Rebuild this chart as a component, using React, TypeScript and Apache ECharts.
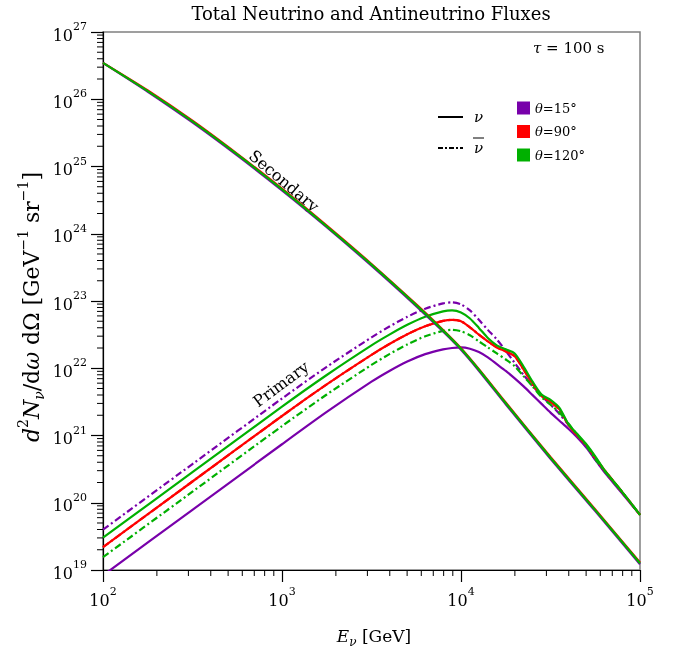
import React, { useEffect, useRef } from 'react';
import * as echarts from 'echarts';

const FONT = 'DejaVu Serif';
const PURPLE = '#7800AA';
const RED = '#FF0000';
const GREEN = '#00B000';

// Energies (GeV) for primary curves
const energies = [100, 316, 1000, 1778, 3162, 3981, 5012, 6310, 7943, 8913, 10000, 11220, 12589, 14125, 15849, 17783, 19953, 22387, 25119, 28184, 31623, 35481, 39811, 44668, 50119, 56234, 63096, 79433, 100000];

// Primary fluxes (GeV^-1 sr^-1)
const primNu15 = [8.32e18, 7.85e19, 7.41e20, 2.24e21, 6.31e21, 9.12e21, 1.26e22, 1.62e22, 1.91e22, 2.0e22, 2.04e22, 1.95e22, 1.74e22, 1.45e22, 1.15e22, 9.12e21, 7.08e21, 5.37e21, 3.98e21, 2.95e21, 2.19e21, 1.66e21, 1.26e21, 9.33e20, 6.61e20, 4.37e20, 2.88e20, 1.38e20, 6.61e19];
const primNubar15 = [3.98e19, 3.76e20, 3.55e21, 1.05e22, 2.88e22, 4.17e22, 5.82e22, 7.67e22, 9.23e22, 9.55e22, 8.91e22, 7.24e22, 5.25e22, 3.72e22, 2.69e22, 1.82e22, 1.2e22, 7.94e21, 5.5e21, 3.89e21, 2.88e21, 2.09e21, 1.45e21, 9.77e20, 6.92e20, 4.37e20, 2.95e20, 1.41e20, 6.61e19];
const primNu90 = [2.19e19, 2.07e20, 1.95e21, 5.75e21, 1.58e22, 2.29e22, 3.2e22, 4.22e22, 5.07e22, 5.25e22, 5.01e22, 4.07e22, 3.16e22, 2.51e22, 2.04e22, 1.78e22, 1.51e22, 9.55e21, 5.89e21, 3.89e21, 3.16e21, 2.45e21, 1.45e21, 1.0e21, 7.24e20, 4.68e20, 3.09e20, 1.45e20, 6.61e19];
const primNubar90 = [2.19e19, 2.07e20, 1.95e21, 5.75e21, 1.58e22, 2.29e22, 3.2e22, 4.22e22, 5.07e22, 5.25e22, 5.01e22, 4.07e22, 3.16e22, 2.51e22, 2.04e22, 1.78e22, 1.51e22, 9.55e21, 5.89e21, 3.89e21, 3.16e21, 2.45e21, 1.45e21, 1.0e21, 7.24e20, 4.68e20, 3.09e20, 1.45e20, 6.61e19];
const primNu120 = [3.02e19, 2.85e20, 2.69e21, 7.94e21, 2.19e22, 3.16e22, 4.42e22, 5.82e22, 7.0e22, 7.24e22, 6.76e22, 5.5e22, 3.98e22, 2.82e22, 2.19e22, 1.91e22, 1.66e22, 1.05e22, 6.31e21, 4.07e21, 3.39e21, 2.57e21, 1.48e21, 1.05e21, 7.41e20, 4.9e20, 3.09e20, 1.45e20, 6.61e19];
const primNubar120 = [1.55e19, 1.46e20, 1.38e21, 4.07e21, 1.12e22, 1.62e22, 2.26e22, 2.99e22, 3.59e22, 3.72e22, 3.55e22, 3.09e22, 2.51e22, 2.04e22, 1.66e22, 1.35e22, 1.07e22, 7.59e21, 5.37e21, 3.72e21, 2.88e21, 2.19e21, 1.51e21, 1.02e21, 7.08e20, 4.47e20, 3.02e20, 1.45e20, 6.61e19];

// Secondary curves
const secEnergies = [100, 178, 316, 562, 1000, 1778, 3162, 5623, 7943, 10000, 12589, 17783, 31623, 56234, 100000];
const sec15 = [3.47e26, 1.29e26, 4.52e25, 1.46e25, 4.41e24, 1.25e24, 3.35e23, 8.4e22, 3.51e22, 1.88e22, 9.2e21, 2.92e21, 4.52e20, 7.5e19, 1.22e19];
const sec90 = [3.47e26, 1.35e26, 4.79e25, 1.54e25, 4.68e24, 1.32e24, 3.55e23, 8.9e22, 3.71e22, 1.99e22, 9.7e21, 3.09e21, 4.79e20, 7.94e19, 1.29e19];
const sec120 = [3.47e26, 1.32e26, 4.68e25, 1.51e25, 4.57e24, 1.29e24, 3.47e23, 8.7e22, 3.63e22, 1.95e22, 9.5e21, 3.02e21, 4.68e20, 7.76e19, 1.26e19];

const minorMantissas = [2, 3, 4, 5, 6, 7, 8, 9];
const xDecades = [100, 1000, 10000];
const yDecades = [1e19, 1e20, 1e21, 1e22, 1e23, 1e24, 1e25, 1e26];

const legendAngles = ['15', '90', '120'];
const legendColors = [PURPLE, RED, GREEN];

export default function App() {
  const ref = useRef<HTMLDivElement>(null);
  useEffect(() => {
    const chart = echarts.init(ref.current!, null, { renderer: 'svg' });
    const mk = (name: string, xs: number[], ys: number[], color: string, dashed: boolean, z: number) => ({
      type: 'line',
      name,
      data: xs.map((x, i) => [x, ys[i]]),
      showSymbol: false,
      symbol: 'none',
      smooth: 0.25,
      silent: true,
      z,
      lineStyle: { color, width: 2.2, type: dashed ? [7, 3, 2, 3] : 'solid' },
    });
    const labelRich = {
      b: { fontSize: 16, fontFamily: FONT, color: '#000', lineHeight: 22, verticalAlign: 'bottom' },
      sup: { fontSize: 11, fontFamily: FONT, color: '#000', lineHeight: 11, verticalAlign: 'top' },
    };
    const fmt = (v: number) => `{b|10}{sup|${Math.round(Math.log10(v))}}`;
    chart.setOption({
      animation: false,
      grid: { left: 103, right: 40, top: 32, bottom: 86, show: true, borderColor: '#808080', borderWidth: 1.5, backgroundColor: 'transparent' },
      xAxis: {
        type: 'log', logBase: 10, min: 100, max: 100000, splitNumber: 3,
        axisLine: { show: true, onZero: false, lineStyle: { color: '#000', width: 1.2 } },
        axisTick: { show: true, inside: false, length: 12, lineStyle: { color: '#000', width: 1.2 } },
        splitLine: { show: false },
        minorTick: { show: false },
        axisLabel: { margin: 16, formatter: fmt, rich: labelRich, fontFamily: FONT, color: '#000' },
      },
      yAxis: {
        type: 'log', logBase: 10, min: 1e19, max: 1e27, splitNumber: 8,
        axisLine: { show: true, onZero: false, lineStyle: { color: '#000', width: 1.2 } },
        axisTick: { show: true, inside: false, length: 12, lineStyle: { color: '#000', width: 1.2 } },
        splitLine: { show: false },
        minorTick: { show: false },
        axisLabel: { margin: 16, formatter: fmt, rich: labelRich, fontFamily: FONT, color: '#000' },
      },
      series: [
        mk('Primary ν θ=15°', energies, primNu15, PURPLE, false, 2),
        mk('Primary ν̄ θ=15°', energies, primNubar15, PURPLE, true, 2),
        mk('Primary ν̄ θ=90°', energies, primNubar90, RED, true, 2),
        mk('Primary ν θ=90°', energies, primNu90, RED, false, 3),
        mk('Primary ν̄ θ=120°', energies, primNubar120, GREEN, true, 3),
        mk('Primary ν θ=120°', energies, primNu120, GREEN, false, 3),
        mk('Secondary θ=15°', secEnergies, sec15, PURPLE, false, 4),
        mk('Secondary θ=90°', secEnergies, sec90, RED, false, 4),
        mk('Secondary θ=120°', secEnergies, sec120, GREEN, false, 5),
      ],
    });

    const px = (v: number) => chart.convertToPixel({ xAxisIndex: 0 }, v) as number;
    const py = (v: number) => chart.convertToPixel({ yAxisIndex: 0 }, v) as number;
    const xL = px(100);
    const yB = py(1e19);
    const g: any[] = [];
    xDecades.forEach((d) => minorMantissas.forEach((m) => {
      const x = px(d * m);
      g.push({ type: 'line', silent: true, shape: { x1: x, y1: yB, x2: x, y2: yB + 6 }, style: { stroke: '#000', lineWidth: 1 } });
    }));
    yDecades.forEach((d) => minorMantissas.forEach((m) => {
      const y = py(d * m);
      g.push({ type: 'line', silent: true, shape: { x1: xL - 6, y1: y, x2: xL, y2: y }, style: { stroke: '#000', lineWidth: 1 } });
    }));

    const txt = (extra: any, style: any) => ({
      type: 'text', silent: true, ...extra,
      style: { fill: '#000', fontFamily: FONT, align: 'center', verticalAlign: 'middle', textAlign: 'center', textVerticalAlign: 'middle', ...style },
    });

    // Title
    g.push(txt({ x: 371, y: 13 }, { text: 'Total Neutrino and Antineutrino Fluxes', fontSize: 18 }));
    // x axis name
    g.push(txt({ x: 374, y: 636 }, {
      text: '{i|E}{sub|ν} [GeV]', fontSize: 17,
      rich: {
        i: { fontStyle: 'italic', fontSize: 17, fontFamily: FONT, lineHeight: 24, verticalAlign: 'middle' },
        sub: { fontStyle: 'italic', fontSize: 12, fontFamily: FONT, lineHeight: 12, verticalAlign: 'bottom' },
      },
    }));
    // y axis name
    g.push(txt({ x: 31, y: 307, rotation: Math.PI / 2 }, {
      text: '{i|d}{sup|2}{i|N}{sub|ν}{n|/d}{i|ω}{n| dΩ [GeV}{sup|−1}{n| sr}{sup|−1}{n|]}', fontSize: 22,
      rich: {
        n: { fontSize: 22, fontFamily: FONT, lineHeight: 30, verticalAlign: 'middle' },
        i: { fontStyle: 'italic', fontSize: 22, fontFamily: FONT, lineHeight: 30, verticalAlign: 'middle' },
        sup: { fontSize: 14, fontFamily: FONT, lineHeight: 14, verticalAlign: 'top' },
        sub: { fontStyle: 'italic', fontSize: 14, fontFamily: FONT, lineHeight: 14, verticalAlign: 'bottom' },
      },
    }));
    // tau annotation
    g.push(txt({ x: 533, y: 48 }, {
      text: '{i|τ} = 100 s', fontSize: 15, align: 'left', textAlign: 'left',
      rich: { i: { fontStyle: 'italic', fontSize: 15, fontFamily: FONT } },
    }));
    // Curve labels
    g.push(txt({ x: 284, y: 181, rotation: -0.7 }, { text: 'Secondary', fontSize: 16 }));
    g.push(txt({ x: 281, y: 384, rotation: 0.64 }, { text: 'Primary', fontSize: 16 }));
    // Line-style legend
    g.push({ type: 'line', silent: true, shape: { x1: 438, y1: 117, x2: 463, y2: 117 }, style: { stroke: '#000', lineWidth: 2 } });
    g.push(txt({ x: 474, y: 117 }, { text: 'ν', fontSize: 15, fontStyle: 'italic', align: 'left', textAlign: 'left' }));
    g.push({ type: 'line', silent: true, shape: { x1: 438, y1: 148, x2: 463, y2: 148 }, style: { stroke: '#000', lineWidth: 2, lineDash: [5, 2, 2, 2] } });
    g.push(txt({ x: 474, y: 148 }, { text: 'ν', fontSize: 15, fontStyle: 'italic', align: 'left', textAlign: 'left' }));
    g.push({ type: 'line', silent: true, shape: { x1: 473, y1: 138, x2: 484, y2: 138 }, style: { stroke: '#000', lineWidth: 1 } });
    // Colour legend
    legendAngles.forEach((a, i) => {
      const yc = 108 + i * 23.5;
      g.push({ type: 'rect', silent: true, shape: { x: 517, y: yc - 6.5, width: 13, height: 13 }, style: { fill: legendColors[i] } });
      g.push(txt({ x: 535, y: yc }, {
        text: `{i|θ}=${a}°`, fontSize: 13, align: 'left', textAlign: 'left',
        rich: { i: { fontStyle: 'italic', fontSize: 13, fontFamily: FONT } },
      }));
    });
    chart.setOption({ graphic: g });
    return () => chart.dispose();
  }, []);
  return <div ref={ref} style={{ position: 'fixed', left: 0, top: 0, width: 680, height: 656 }} />;
}
